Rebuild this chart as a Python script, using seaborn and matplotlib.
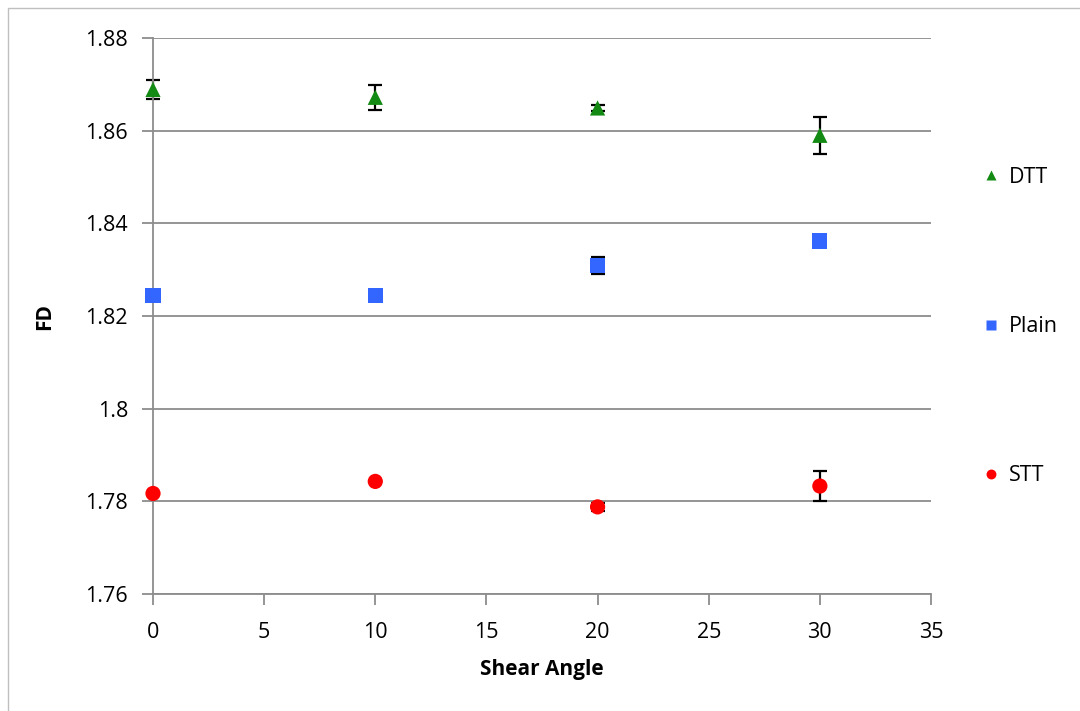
import pandas as pd
import numpy as np
import matplotlib
matplotlib.use("Agg")
import matplotlib.pyplot as plt
import seaborn as sns

# Data
shear_angle = [0, 10, 20, 30]
dtt = [1.8689, 1.8672, 1.8649, 1.8590]
dtt_err = [0.0020, 0.0027, 0.0007, 0.0040]
plain = [1.8245, 1.8245, 1.8309, 1.8362]
plain_err = [0.0, 0.0, 0.0018, 0.0]
stt = [1.7817, 1.7843, 1.7788, 1.7833]
stt_err = [0.0004, 0.0, 0.0009, 0.0033]

series = ["DTT", "Plain", "STT"]
colors = {"DTT": "#138a13", "Plain": "#3366ff", "STT": "#ff0000"}
markers = {"DTT": "^", "Plain": "s", "STT": "o"}

df = pd.concat([
    pd.DataFrame({"Shear Angle": shear_angle, "FD": dtt, "err": dtt_err, "group": "DTT"}),
    pd.DataFrame({"Shear Angle": shear_angle, "FD": plain, "err": plain_err, "group": "Plain"}),
    pd.DataFrame({"Shear Angle": shear_angle, "FD": stt, "err": stt_err, "group": "STT"}),
])

sns.set_style("white")
plt.rcParams["font.family"] = ["Open Sans", "DejaVu Sans"]

fig = plt.figure(figsize=(10.8, 7.11), dpi=100)
ax = fig.add_axes([153 / 1080, 1 - 594 / 711, 778 / 1080, 556 / 711])

# error bars behind markers
for g in series:
    d = df[df.group == g]
    ax.errorbar(d["Shear Angle"], d["FD"], yerr=d["err"], fmt="none",
                ecolor="black", elinewidth=1.6, capsize=5, capthick=1.6,
                zorder=2, clip_on=False)

sns.scatterplot(data=df, x="Shear Angle", y="FD", hue="group", style="group",
                hue_order=series, style_order=series, palette=colors,
                markers=markers, s=120, edgecolor="none", zorder=3,
                clip_on=False, ax=ax)

# Decorations
ax.set_xlim(0, 35)
ax.set_ylim(1.76, 1.88)
ax.set_xticks(range(0, 36, 5))
ax.set_yticks(np.arange(1.76, 1.8801, 0.02))
ax.set_yticklabels(["1.76", "1.78", "1.8", "1.82", "1.84", "1.86", "1.88"])
ax.grid(axis="y", color="#8c8c8c", linewidth=1.3)
ax.set_axisbelow(True)
for s in ["top", "right"]:
    ax.spines[s].set_visible(False)
for s in ["left", "bottom"]:
    ax.spines[s].set_color("#8c8c8c")
    ax.spines[s].set_linewidth(1.3)
ax.tick_params(axis="both", direction="out", length=8, width=1.3, color="#8c8c8c",
               labelsize=15.5, labelcolor="black", left=True, bottom=True)
ax.tick_params(axis="y", pad=10)
ax.tick_params(axis="x", pad=12)
ax.set_xlabel("Shear Angle", fontsize=15, fontweight="bold", labelpad=12, color="black")
ax.set_ylabel("FD", fontsize=15, fontweight="bold", labelpad=22, color="black")

leg = ax.legend(loc="center left", bbox_to_anchor=(1.038, 0.481), frameon=False,
                fontsize=15.5, labelspacing=5.95, handlelength=1.0,
                handletextpad=0.35, markerscale=0.65)
for t in leg.get_texts():
    t.set_color("black")

# light outer frame
fig.patches.append(plt.Rectangle((8 / 1080, -0.01), 1.02, 1 - 8 / 711 + 0.01,
                                 transform=fig.transFigure, fill=False,
                                 edgecolor="#bfbfbf", linewidth=1))

plt.savefig("out.png", dpi=100)
